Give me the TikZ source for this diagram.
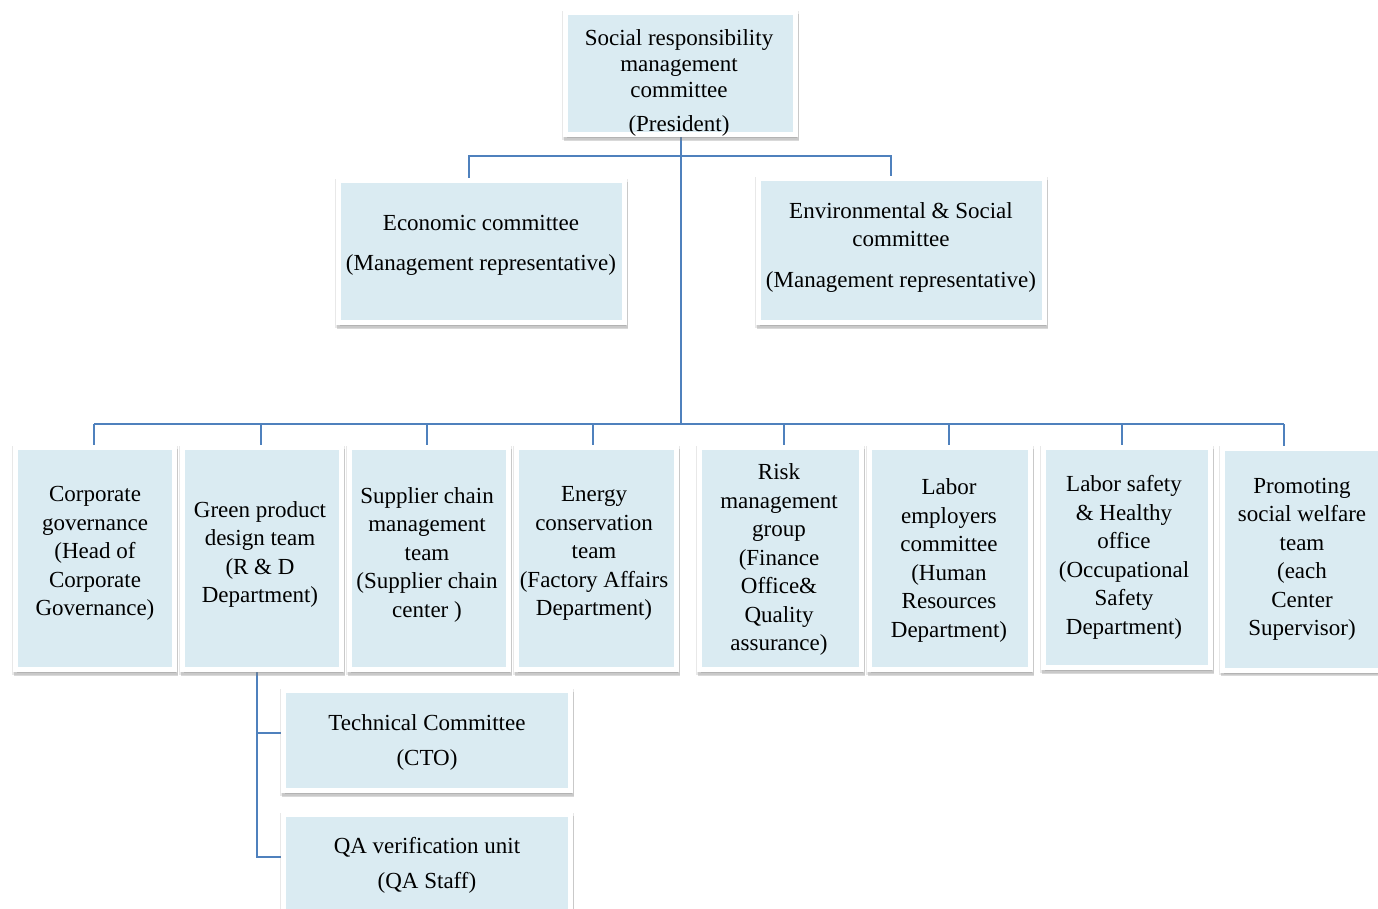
\documentclass[tikz,border=0pt]{standalone}
\usepackage{fontspec}
\setmainfont{Liberation Serif}
\usetikzlibrary{shadows,backgrounds}
\definecolor{boxblue}{HTML}{DAEBF2}
\definecolor{linkblue}{HTML}{4F81BD}
\begin{document}
\begin{tikzpicture}[x=1pt,y=-1pt,
  bx/.style={rectangle, fill=boxblue, draw=white, line width=5pt, inner sep=0pt,
     drop shadow={shadow xshift=0pt, shadow yshift=-1.5pt, fill=black!50, draw=black!50, line width=7pt, opacity=0.18},
     drop shadow={shadow xshift=1pt, shadow yshift=-3.5pt, fill=black!50, draw=black!50, line width=5pt, opacity=0.3}},
  lbl/.style={align=center, inner sep=0pt, font=\fontsize{23}{28.5}\selectfont, text=black},
  link/.style={draw=linkblue, line width=2pt}]
\useasboundingbox (0,0) rectangle (1378,908);
\clip (0,0) rectangle (1378,908);

% boxes
\node[bx, minimum width=230pt, minimum height=122pt] (top) at (680.5,73.5) {};
\node[bx, minimum width=286pt, minimum height=142pt] (econ) at (481.5,251.5) {};
\node[bx, minimum width=286pt, minimum height=144pt] (env) at (901.5,250.5) {};
\node[bx, minimum width=159pt, minimum height=222pt] (corp) at (95,558.5) {};
\node[bx, minimum width=159pt, minimum height=222pt] (green) at (262,558.5) {};
\node[bx, minimum width=159pt, minimum height=222pt] (supp) at (429,558.5) {};
\node[bx, minimum width=160pt, minimum height=222pt] (energy) at (596.5,558.5) {};
\node[bx, minimum width=162pt, minimum height=222pt] (risk) at (780.5,558.5) {};
\node[bx, minimum width=161pt, minimum height=222pt] (labe) at (950,558.5) {};
\node[bx, minimum width=167pt, minimum height=220pt] (labs) at (1127,557.5) {};
\node[bx, minimum width=159pt, minimum height=222pt] (prom) at (1302,559) {};
\node[bx, minimum width=287pt, minimum height=100pt] (tech) at (427,740.5) {};
\node[bx, minimum width=287pt, minimum height=100pt] (qa) at (427,864.5) {};

% texts
\node[lbl] (topT) at (679,82.5) {Social responsibility\\[-2.5pt]management\\[-2.5pt]committee\\[5.5pt](President)};
\node[lbl] (econT) at (481,245.5) {Economic committee\\[11.5pt](Management representative)};
\node[lbl] (envT) at (901,247.5) {Environmental \& Social\\committee\\[12.5pt](Management representative)};
\node[lbl] (corpT) at (95,553.5) {Corporate\\governance\\(Head of\\Corporate\\Governance)};
\node[lbl] (greenT) at (260,554.5) {Green product\\design team\\(R \& D\\Department)};
\node[lbl] (suppT) at (427,554.5) {Supplier chain\\management\\team\\(Supplier chain\\center )};
\node[lbl] (energyT) at (594,553.5) {Energy\\conservation\\team\\(Factory Affairs\\Department)};
\node[lbl] (riskT) at (779,559.5) {Risk\\management\\group\\(Finance\\Office\&\\Quality\\assurance)};
\node[lbl] (labeT) at (949,560.5) {Labor\\employers\\committee\\(Human\\Resources\\Department)};
\node[lbl] (labsT) at (1124,557.5) {Labor safety\\\& Healthy\\office\\(Occupational\\Safety\\Department)};
\node[lbl] (promT) at (1302,559.5) {Promoting\\social welfare\\team\\(each\\Center\\Supervisor)};
\node[lbl] (techT) at (427,742.5) {Technical Committee\\[6.5pt](CTO)};
\node[lbl] (qaT) at (427,865.5) {QA verification unit\\[6.5pt](QA Staff)};

% connector coordinates
\coordinate (hubB) at (681,424);
\coordinate (eA) at (469,156);
\coordinate (eB) at (891,156);
\coordinate (b1) at (94,424);
\coordinate (b2) at (261,424);
\coordinate (b3) at (427,424);
\coordinate (b4) at (593,424);
\coordinate (b5) at (784,424);
\coordinate (b6) at (949,424);
\coordinate (b7) at (1122,424);
\coordinate (b8) at (1284,424);
\coordinate (t1) at (257,733);
\coordinate (t2) at (257,857);

\begin{pgfonlayer}{background}
\draw[link] (top.south -| hubB) -- (hubB);
\draw[link] (econ.north -| eA) -- (eA) -- (eB) -- (env.north -| eB);
\draw[link] (b1) -- (b8);
\draw[link] (b1) -- (b1 |- corp.north);
\draw[link] (b2) -- (b2 |- green.north);
\draw[link] (b3) -- (b3 |- supp.north);
\draw[link] (b4) -- (b4 |- energy.north);
\draw[link] (b5) -- (b5 |- risk.north);
\draw[link] (b6) -- (b6 |- labe.north);
\draw[link] (b7) -- (b7 |- labs.north);
\draw[link] (b8) -- (b8 |- prom.north);
\draw[link] (green.south -| t1) -- (t2) -- (t2 -| qa.west);
\draw[link] (t1) -- (t1 -| tech.west);
\end{pgfonlayer}
\end{tikzpicture}
\end{document}
